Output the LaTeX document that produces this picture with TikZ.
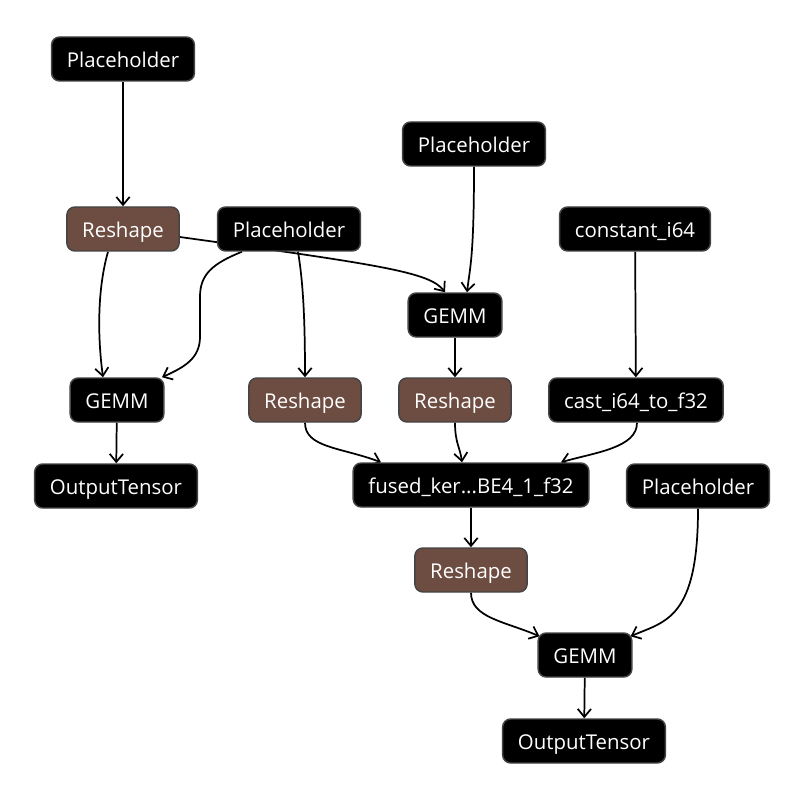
\documentclass[tikz,border=0pt]{standalone}
\usepackage{fontspec}
\setmainfont{Open Sans}
\usepackage{tikz}
\usetikzlibrary{calc, arrows.meta, backgrounds}
\usepackage{xcolor}
\definecolor{reshbrown}{HTML}{6D4C41}
\definecolor{rimgray}{HTML}{444444}

\begin{document}
\begin{tikzpicture}[
        x=0.75pt, y=-0.75pt,
        op/.style={
            rectangle, rounded corners=6pt, draw=rimgray, line width=1.1pt,
            fill=black, text=white, minimum height=33pt, inner xsep=11.5pt,
            text height=13.4pt, text depth=1pt,
            font=\fontsize{15.3}{18}\selectfont
        },
        rs/.style={op, fill=reshbrown},
        flow/.style={draw, line width=1.3pt, -{Straight Barb[length=6pt, width=10pt]}}
    ]
    \useasboundingbox (0,0) rectangle (806,802);

    % Top inputs
    \node[op] (ph1) at (123, 59) {Placeholder};
    \node[op] (ph3) at (474, 144) {Placeholder};

    % Row three
    \node[rs] (resh1) at (123, 229) {Reshape};
    \node[op] (ph2) at (289, 229) {Placeholder};
    \node[op] (const) at (635, 229) {constant\_i64};

    % Middle GEMM
    \node[op] (gemm1) at (455, 315) {GEMM};

    % Row five
    \node[op] (gemmL) at (117, 400) {GEMM};
    \node[rs] (resh2) at (305, 400) {Reshape};
    \node[rs] (resh3) at (455, 400) {Reshape};
    \node[op] (cast) at (636, 400) {cast\_i64\_to\_f32};

    % Row six
    \node[op] (outL) at (116, 486) {OutputTensor};
    \node[op] (fused) at (471, 485) {fused\_ker...BE4\_1\_f32};
    \node[op] (phR) at (698, 486) {Placeholder};

    % Bottom chain
    \node[rs] (resh4) at (471, 570) {Reshape};
    \node[op] (gemmB) at (585, 655) {GEMM};
    \node[op] (outB) at (584, 741) {OutputTensor};

    % Edges (behind the boxes)
    \begin{scope}[on background layer]
    \draw[flow] (ph1) -- (resh1);
    \draw[flow] ($(resh1.south)+(-15,0)$) .. controls +(-10,35) and +(-6,-45) .. ($(gemmL.north)+(-14,0)$);
    \draw[flow] ($(ph2.south)+(-47,0)$) .. controls +(-30,12) and +(0,-22) .. ++(-42,45)
        -- ++(0,40) .. controls +(0,22) and +(22,-10) .. ($(gemmL.north)+(45,0)$);
    \draw[flow] ($(ph2.south)+(9,0)$) .. controls +(5,30) and +(0,-60) .. (resh2.north);
    \draw[flow] ($(resh1.east)+(0,8)$) .. controls +(202,28) and +(-15,-20) .. ($(gemm1.north)+(-10,0)$);
    \draw[flow] (ph3.south) .. controls +(0,90) and +(3,-25) .. ($(gemm1.north)+(12,0)$);
    \draw[flow] (const) -- (cast);
    \draw[flow] (gemm1) -- (resh3);
    \draw[flow] (gemmL) -- (outL);
    \draw[flow] (resh2.south) .. controls +(0,25) and +(-40,-15) .. ($(fused.north)+(-90,0)$);
    \draw[flow] (resh3.south) .. controls +(0,20) and +(-2,-15) .. ($(fused.north)+(-9,0)$);
    \draw[flow] ($(cast.south)+(1,0)$) .. controls +(0,25) and +(35,-10) .. ($(fused.north)+(90,0)$);
    \draw[flow] (fused) -- (resh4);
    \draw[flow] (resh4.south) .. controls +(0,25) and +(-35,-15) .. ($(gemmB.north west)+(2,4)$);
    \draw[flow] (phR.south) .. controls +(0,110) and +(35,-15) .. ($(gemmB.north east)+(-2,4)$);
    \draw[flow] (gemmB) -- (outB);
    \end{scope}

\end{tikzpicture}
\end{document}
